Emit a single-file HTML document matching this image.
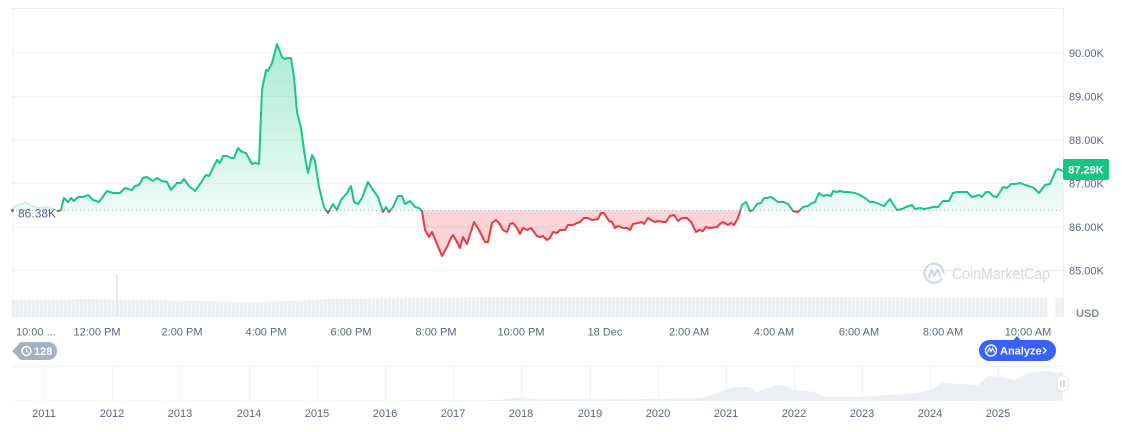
<!DOCTYPE html>
<html><head><meta charset="utf-8"><style>
html,body{margin:0;padding:0;background:#fff;width:1130px;height:432px;overflow:hidden}
svg{display:block}
text{font-family:"Liberation Sans",sans-serif}
</style></head><body>
<svg width="1130" height="432" viewBox="0 0 1130 432" xmlns="http://www.w3.org/2000/svg">
<defs>
<linearGradient id="gg" x1="0" y1="44" x2="0" y2="211" gradientUnits="userSpaceOnUse">
<stop offset="0" stop-color="#16c784" stop-opacity="0.36"/>
<stop offset="1" stop-color="#16c784" stop-opacity="0.07"/>
</linearGradient>
<clipPath id="up"><rect x="0" y="0" width="1130" height="210.5"/></clipPath>
<clipPath id="dn"><rect x="0" y="210.5" width="1130" height="200"/></clipPath>
<pattern id="vp" x="12" y="0" width="4" height="10" patternUnits="userSpaceOnUse"><rect x="0" y="0" width="3" height="10" fill="#edf0f3"/><rect x="3" y="0" width="1" height="10" fill="#f7f8fa"/></pattern>
<polyline id="ln" points="58,211 61,210 64,198 68,202 71,198 74,201 78,197 83,197 88,195 93,200 99,202 107,191 113,193 120,193 125,188 132,190 135,186 139,185 143,178 147,177 153,181 157,178 162,181 167,182 171,190 177,183 181,183 184,179 189,186 195,191 200,184 206,175 209,176 217,160 220,163 223,156 227,156 231,158 234,158 238,148 242,152 246,153 252,164 255,163 259,164 262,90 266,70 268,71 272,63 277,44 282,57 285,59 288,58 291,58 294,77 297,112 301,128 305,157 308,173 312,155 315,161 319,187 324,207 328,213 333,204 337,210 341,200 347,193 351,186 354,202 358,204 362,198 368,182 373,190 378,197 383,212 386,207 389,212 393,207 398,196 402,196 405,204 410,201 415,207 419,208 422,211 425,230 429,237 432,232 437,244 442,256 447,247 451,238 453,235 457,242 460,248 463,237 467,244 474,222 479,230 485,242 488,242 492,223 496,220 499,223 503,230 507,232 510,224 513,223 517,228 520,234 523,228 527,230 531,228 537,236 540,237 543,236 547,240 550,238 553,232 557,233 560,230 565,230 568,225 573,225 577,223 580,222 584,218 588,218 592,220 598,219 601,213 604,213 609,221 612,222 615,228 618,226 623,228 627,228 630,230 633,224 638,223 642,222 644,224 648,218 651,220 655,222 658,221 663,222 666,222 670,216 674,215 678,221 682,218 687,218 691,222 696,232 699,230 703,231 706,227 710,228 717,227 720,224 723,222 728,225 731,223 734,225 738,218 742,205 746,202 750,211 753,210 757,204 761,203 764,198 767,198 771,197 774,199 778,202 784,202 788,204 793,211 798,212 803,207 808,206 812,203 815,202 819,193 823,196 827,195 831,196 833,191 837,192 840,191 844,192 848,192 855,193 860,195 865,198 870,202 874,202 879,204 884,206 890,199 893,204 897,210 902,209 906,207 912,205 915,209 920,208 924,209 929,208 933,207 938,207 943,201 949,201 953,193 957,192 967,192 972,197 976,196 979,195 982,197 986,192 989,192 993,196 997,197 1000,192 1003,187 1007,188 1011,184 1015,184 1020,183 1025,185 1029,186 1034,188 1039,193 1045,185 1050,184 1056,170 1058,169 1063,171"/>
<polygon id="ar" points="58,210.5 58,211 61,210 64,198 68,202 71,198 74,201 78,197 83,197 88,195 93,200 99,202 107,191 113,193 120,193 125,188 132,190 135,186 139,185 143,178 147,177 153,181 157,178 162,181 167,182 171,190 177,183 181,183 184,179 189,186 195,191 200,184 206,175 209,176 217,160 220,163 223,156 227,156 231,158 234,158 238,148 242,152 246,153 252,164 255,163 259,164 262,90 266,70 268,71 272,63 277,44 282,57 285,59 288,58 291,58 294,77 297,112 301,128 305,157 308,173 312,155 315,161 319,187 324,207 328,213 333,204 337,210 341,200 347,193 351,186 354,202 358,204 362,198 368,182 373,190 378,197 383,212 386,207 389,212 393,207 398,196 402,196 405,204 410,201 415,207 419,208 422,211 425,230 429,237 432,232 437,244 442,256 447,247 451,238 453,235 457,242 460,248 463,237 467,244 474,222 479,230 485,242 488,242 492,223 496,220 499,223 503,230 507,232 510,224 513,223 517,228 520,234 523,228 527,230 531,228 537,236 540,237 543,236 547,240 550,238 553,232 557,233 560,230 565,230 568,225 573,225 577,223 580,222 584,218 588,218 592,220 598,219 601,213 604,213 609,221 612,222 615,228 618,226 623,228 627,228 630,230 633,224 638,223 642,222 644,224 648,218 651,220 655,222 658,221 663,222 666,222 670,216 674,215 678,221 682,218 687,218 691,222 696,232 699,230 703,231 706,227 710,228 717,227 720,224 723,222 728,225 731,223 734,225 738,218 742,205 746,202 750,211 753,210 757,204 761,203 764,198 767,198 771,197 774,199 778,202 784,202 788,204 793,211 798,212 803,207 808,206 812,203 815,202 819,193 823,196 827,195 831,196 833,191 837,192 840,191 844,192 848,192 855,193 860,195 865,198 870,202 874,202 879,204 884,206 890,199 893,204 897,210 902,209 906,207 912,205 915,209 920,208 924,209 929,208 933,207 938,207 943,201 949,201 953,193 957,192 967,192 972,197 976,196 979,195 982,197 986,192 989,192 993,196 997,197 1000,192 1003,187 1007,188 1011,184 1015,184 1020,183 1025,185 1029,186 1034,188 1039,193 1045,185 1050,184 1056,170 1058,169 1063,171 1063,210.5"/>
</defs>

<!-- frame -->
<line x1="12" y1="8.5" x2="1063" y2="8.5" stroke="#eceff3"/>
<line x1="1063.5" y1="8" x2="1063.5" y2="318" stroke="#eceff3"/>
<line x1="12.5" y1="8" x2="12.5" y2="318" stroke="#f2f4f7"/>
<!-- gridlines -->
<g stroke="#eff2f5" stroke-width="1">
<line x1="12" y1="53" x2="1063" y2="53"/>
<line x1="12" y1="96.5" x2="1063" y2="96.5"/>
<line x1="12" y1="140" x2="1063" y2="140"/>
<line x1="12" y1="183.5" x2="1063" y2="183.5"/>
<line x1="12" y1="227" x2="1063" y2="227"/>
<line x1="12" y1="270.5" x2="1063" y2="270.5"/>
</g>

<!-- volume -->
<polygon fill="url(#vp)" points="12,300 70,300 75,299 150,300 200,301 250,302 290,301 330,299 440,298 480,297 700,297 850,297 1000,298 1063,298 1063,317 12,317"/>
<rect x="1048" y="295" width="7" height="23" fill="#fff"/>
<rect x="116" y="274" width="2" height="43" fill="#e6e9ee"/>

<!-- faint start -->
<polygon fill="#16c784" fill-opacity="0.06" points="12,210.5 17,205 22,204 26,202 30,205 37,208 47,207 53,209 58,210.5"/>
<polyline fill="none" stroke="#16c784" stroke-opacity="0.25" stroke-width="1.5" points="12,210 17,205 22,204 26,202 30,205 37,208 47,207 53,209 58,211"/>

<!-- areas -->
<use href="#ar" clip-path="url(#up)" fill="url(#gg)"/>
<use href="#ar" clip-path="url(#dn)" fill="#ea3943" fill-opacity="0.22"/>

<!-- baseline dotted -->
<line x1="12" y1="210.5" x2="1063" y2="210.5" stroke="#a6b0c3" stroke-width="1" stroke-dasharray="1,3"/>

<!-- line -->
<g fill="none" stroke-width="2" stroke-linejoin="round" stroke-linecap="round">
<use href="#ln" clip-path="url(#up)" stroke="#16c784"/>
<use href="#ln" clip-path="url(#dn)" stroke="#ea3943"/>
</g>

<!-- start label -->
<circle cx="12.5" cy="210.5" r="1.5" fill="#ea3943"/>
<text x="18" y="217.5" font-size="12" fill="#58667e">86.38K</text>

<!-- watermark -->
<g>
<path d="M941.5,279 A9.5,9.5 0 1 1 943.5,273" fill="none" stroke="#d3d9e2" stroke-width="2.2" stroke-linecap="round"/>
<polyline points="928.5,278 931.5,269.5 934.5,276 937.5,269.5 940.5,277" fill="none" stroke="#d3d9e2" stroke-width="2" stroke-linejoin="round"/>
<text x="952" y="279" font-size="15.5" fill="#d3d9e2" textLength="98" lengthAdjust="spacingAndGlyphs">CoinMarketCap</text>
</g>

<!-- y labels -->
<g font-size="11" fill="#58667e">
<text x="1069" y="57">90.00K</text>
<text x="1069" y="100.5">89.00K</text>
<text x="1069" y="144">88.00K</text>
<text x="1069" y="187.5">87.00K</text>
<text x="1069" y="231">86.00K</text>
<text x="1069" y="274.5">85.00K</text>
</g>
<rect x="1063" y="159" width="46" height="21" rx="2" fill="#16c784"/>
<text x="1086" y="173.5" font-size="11" font-weight="bold" fill="#fff" text-anchor="middle">87.29K</text>
<text x="1076" y="317" font-size="11" font-weight="bold" fill="#808a9d">USD</text>

<!-- x labels -->
<g font-size="11" fill="#58667e" text-anchor="middle">
<text x="16" y="335.5" text-anchor="start">10:00 ...</text>
<text x="97" y="335.5">12:00 PM</text>
<text x="182" y="335.5">2:00 PM</text>
<text x="266" y="335.5">4:00 PM</text>
<text x="351" y="335.5">6:00 PM</text>
<text x="436" y="335.5">8:00 PM</text>
<text x="521" y="335.5">10:00 PM</text>
<text x="605" y="335.5">18 Dec</text>
<text x="689" y="335.5">2:00 AM</text>
<text x="774" y="335.5">4:00 AM</text>
<text x="859" y="335.5">6:00 AM</text>
<text x="943" y="335.5">8:00 AM</text>
<text x="1028" y="335.5">10:00 AM</text>
</g>

<!-- 128 badge -->
<path d="M12,351 L18,345 Q19,342 23,342 L48,342 A9,9 0 0 1 48,360 L23,360 Q19,360 18,357 Z" fill="#a6b0c3"/>
<circle cx="26.5" cy="351" r="4.5" fill="none" stroke="#fff" stroke-width="1.4"/>
<polyline points="26.5,348.5 26.5,351 28.5,352.5" fill="none" stroke="#fff" stroke-width="1.2"/>
<text x="34" y="355" font-size="11" font-weight="bold" fill="#fff">128</text>

<!-- Analyze -->
<polygon points="1013,340.5 1017,336 1021,340.5" fill="#3861fb"/>
<rect x="979" y="340" width="77" height="21" rx="10.5" fill="#3861fb"/>
<circle cx="991" cy="350.5" r="5.5" fill="none" stroke="#fff" stroke-width="1.4"/>
<polyline points="987.5,352.5 989.5,348 991,351.5 992.5,348 994.5,352.5" fill="none" stroke="#fff" stroke-width="1.2"/>
<text x="1000" y="354.5" font-size="11" font-weight="bold" fill="#fff">Analyze</text>
<polyline points="1043,347.5 1046,350.5 1043,353.5" fill="none" stroke="#fff" stroke-width="1.3"/>

<!-- navigator -->
<line x1="12" y1="366.5" x2="1063" y2="366.5" stroke="#eff2f5"/>
<g stroke="#eff2f5">
<line x1="44.5" y1="367" x2="44.5" y2="401"/><line x1="112.5" y1="367" x2="112.5" y2="401"/>
<line x1="180.5" y1="367" x2="180.5" y2="401"/><line x1="249.5" y1="367" x2="249.5" y2="401"/>
<line x1="317.5" y1="367" x2="317.5" y2="401"/><line x1="385.5" y1="367" x2="385.5" y2="401"/>
<line x1="453.5" y1="367" x2="453.5" y2="401"/><line x1="521.5" y1="367" x2="521.5" y2="401"/>
<line x1="590.5" y1="367" x2="590.5" y2="401"/><line x1="658.5" y1="367" x2="658.5" y2="401"/>
<line x1="726.5" y1="367" x2="726.5" y2="401"/><line x1="794.5" y1="367" x2="794.5" y2="401"/>
<line x1="862.5" y1="367" x2="862.5" y2="401"/><line x1="930.5" y1="367" x2="930.5" y2="401"/>
<line x1="998.5" y1="367" x2="998.5" y2="401"/>
</g>
<polygon fill="#eceff3" points="12,401 12,400.6 400,400.5 500,400 515,398 522,397 530,399 600,399.5 650,399 700,398 713,395 725,390 735,387 749,387 756,392 765,389 778,385 785,386 793,390 805,391 815,392 825,397 858,397 887,395 916,393 931,390 942,383 960,384 978,385 989,376 1000,377 1015,380 1029,373 1047,371 1058,373 1063,372 1063,401"/>
<rect x="1057" y="376" width="11" height="15" rx="4" fill="#fff" stroke="#e3e7ec"/>
<line x1="1061" y1="380" x2="1061" y2="387" stroke="#b8c0cc"/>
<line x1="1064" y1="380" x2="1064" y2="387" stroke="#b8c0cc"/>

<!-- year labels -->
<g font-size="11" fill="#58667e" text-anchor="middle">
<text x="44" y="417">2011</text><text x="112" y="417">2012</text><text x="180" y="417">2013</text>
<text x="249" y="417">2014</text><text x="317" y="417">2015</text><text x="385" y="417">2016</text>
<text x="453" y="417">2017</text><text x="521" y="417">2018</text><text x="590" y="417">2019</text>
<text x="658" y="417">2020</text><text x="726" y="417">2021</text><text x="794" y="417">2022</text>
<text x="862" y="417">2023</text><text x="930" y="417">2024</text><text x="998" y="417">2025</text>
</g>
</svg>
</body></html>
